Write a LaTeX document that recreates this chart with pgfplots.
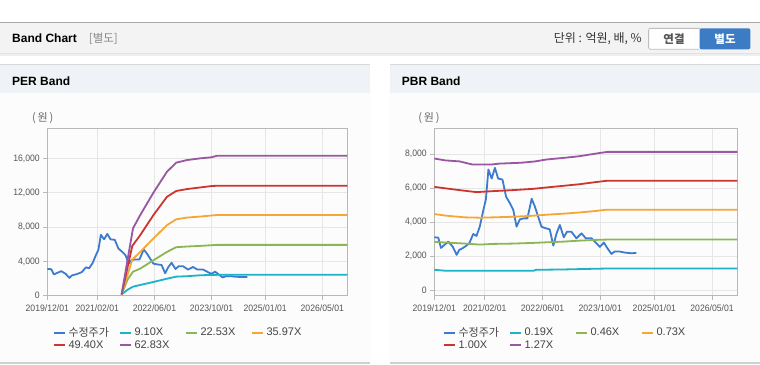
\documentclass[border=0pt]{standalone}
\usepackage{fontspec}
\setmainfont{Liberation Sans}
\newfontfamily\kr{Noto Sans CJK KR}
\newfontfamily\tickf[FakeStretch=0.93]{Liberation Sans}
\usepackage{pgfplots}
\pgfplotsset{compat=1.18}
\definecolor{cPrice}{HTML}{3C7BCF}
\definecolor{cA}{HTML}{1BB3C6}
\definecolor{cB}{HTML}{8CB653}
\definecolor{cC}{HTML}{F4A736}
\definecolor{cD}{HTML}{CD3530}
\definecolor{cE}{HTML}{9A56A2}
\definecolor{axisgray}{HTML}{B8B8B8}
\definecolor{gridgray}{HTML}{E6E6E6}
\definecolor{ticktext}{HTML}{555555}
\definecolor{hdrbg}{HTML}{F3F3F3}
\definecolor{hdrline}{HTML}{A8A8A8}
\definecolor{shadowA}{HTML}{E2E2E2}
\definecolor{shadowB}{HTML}{EEEEEE}
\definecolor{bracketgray}{HTML}{888888}
\definecolor{unittext}{HTML}{333333}
\definecolor{btnborder}{HTML}{BDBDBD}
\definecolor{btnblue}{HTML}{3B7CC4}
\definecolor{btntext}{HTML}{555555}
\definecolor{titlebg}{HTML}{EFF2F6}
\definecolor{bodybg}{HTML}{FCFCFC}
\definecolor{topline}{HTML}{D8D8D8}
\definecolor{botline}{HTML}{D0D0D0}
\definecolor{unitgray}{HTML}{666666}
\definecolor{legtext}{HTML}{444444}
\pgfplotsset{bandaxis/.style={
  scale only axis, height=167.4pt,
  xmin=0, xmax=84,
  xtick={0,14,30,46,61,77},
  xticklabels={2019/12/01,2021/02/01,2022/06/01,2023/10/01,2025/01/01,2026/05/01},
  grid=major, major grid style={gridgray, line width=0.8pt},
  axis line style={axisgray, line width=1pt},
  tick align=outside, major tick length=4pt, tick style={axisgray, line width=0.8pt},
  tick pos=left,
  tick label style={font=\tickf\fontsize{9.3}{10}\selectfont, text=ticktext},
  xticklabel style={yshift=-1.5pt},
  /pgf/number format/assume math mode=true,
  /pgf/number format/1000 sep={,},
  scaled y ticks=false,
  every axis plot/.append style={line width=1.8pt, line join=round, mark=none},
  legend columns=4,
  legend cell align=left,
  legend style={draw=none, fill=none, font=\fontsize{11}{12}\selectfont, text=legtext,
    anchor=north west, column sep=2.5pt, row sep=1.8pt, inner sep=0pt, nodes={inner sep=0.5pt}},
  legend image code/.code={\draw[line width=2pt] (0pt,0pt) -- (10.6pt,0pt);},
}}
\newcommand{\lb}[1]{\makebox[47.4pt][l]{#1}}
\begin{document}
\begin{tikzpicture}
\useasboundingbox (0,0) rectangle (760pt,-364pt);
\fill[white] (0,0) rectangle (760pt,-364pt);
% header
\fill[hdrbg] (0,-22.5pt) rectangle (760pt,-52.5pt);
\draw[hdrline, line width=1.2pt] (0,-22.5pt) -- (760pt,-22.5pt);
\fill[shadowA] (0,-52.5pt) rectangle (760pt,-54pt);
\fill[shadowB] (0,-54pt) rectangle (760pt,-55.5pt);
\node[anchor=base west, inner sep=0pt, font=\bfseries\fontsize{12}{14}\selectfont] at (12pt,-42.7pt) {Band Chart};
\node[anchor=base west, inner sep=0pt, text=bracketgray, font=\kr\fontsize{11.5}{14}\selectfont] at (88.7pt,-42.7pt) {[별도]};
\node[anchor=base east, inner sep=0pt, text=unittext, font=\kr\fontsize{12}{14}\selectfont] at (642pt,-42.7pt) {단위 : 억원, 배, \%};
\draw[fill=white, draw=btnborder, line width=0.8pt, rounded corners=2pt] (699.5pt,-28.3pt) -- (648.6pt,-28.3pt) -- (648.6pt,-49.3pt) -- (699.5pt,-49.3pt);
\draw[draw=btnborder, line width=0.8pt] (648.6pt,-28.3pt) -- (699.5pt,-28.3pt);
\fill[btnblue, rounded corners=2pt] (699.5pt,-28.3pt) rectangle (750.4pt,-49.3pt);
\node[text=btntext, font=\kr\bfseries\fontsize{11.5}{14}\selectfont] at (674pt,-39pt) {연결};
\node[text=white, font=\kr\bfseries\fontsize{11.5}{14}\selectfont] at (725pt,-39pt) {별도};
% panels
\foreach \xa/\xb in {0/369.5, 390/760} {
  \fill[titlebg] (\xa pt,-64.5pt) rectangle (\xb pt,-93pt);
  \fill[bodybg] (\xa pt,-93pt) rectangle (\xb pt,-362.5pt);
  \draw[topline, line width=1.2pt] (\xa pt,-64.3pt) -- (\xb pt,-64.3pt);
  \draw[botline, line width=1.2pt] (\xa pt,-363pt) -- (\xb pt,-363pt);
}
\node[anchor=base west, inner sep=0pt, font=\bfseries\fontsize{12}{14}\selectfont] at (12pt,-85pt) {PER Band};
\node[anchor=base west, inner sep=0pt, font=\bfseries\fontsize{12}{14}\selectfont] at (401.7pt,-85pt) {PBR Band};
\node[text=unitgray, font=\kr\fontsize{11}{13}\selectfont] at (42.7pt,-118.3pt) {(\,원\,)};
\node[text=unitgray, font=\kr\fontsize{11}{13}\selectfont] at (429pt,-118.3pt) {(\,원\,)};

% PER axis
\begin{axis}[bandaxis, at={(47.3pt,-295.7pt)}, anchor=south west, width=300pt,
  ymin=0, ymax=19500, ytick={0,4000,8000,12000,16000},
  legend style={at={(0.018,-0.185)}}]
\addplot[cPrice] coordinates {(0,3110)(1.1,3090)(1.85,2485)(2.8,2660)(3.9,2855)(5.1,2560)(6.2,2075)(6.9,2365)(7.85,2465)(8.8,2600)(9.7,2760)(10.8,3305)(11.7,3190)(12.65,3775)(13.6,4715)(14.3,5340)(15.0,7100)(15.9,6570)(16.8,7200)(17.7,6570)(18.9,6510)(19.9,5500)(21.0,5105)(21.9,4715)(22.8,3735)(23.7,4165)(24.8,4225)(25.8,4225)(27.0,5380)(27.9,4910)(28.8,4320)(29.7,3735)(30.9,3640)(32.0,3580)(33.0,2620)(33.9,3345)(34.8,3835)(35.9,3110)(36.8,3440)(38.0,3440)(39.4,3050)(40.8,3345)(42.0,3050)(43.6,3050)(44.5,2855)(45.9,2545)(47.0,2800)(47.7,2560)(49.1,2130)(50.0,2270)(51.4,2270)(52.8,2210)(54.7,2170)(56.0,2190)};
\addlegendentry{\lb{\kr 수정주가}}
\addplot[cA] coordinates {(20.8,150)(22.5,700)(24,1050)(26,1250)(29.7,1600)(33.5,1980)(36.1,2220)(39.1,2270)(42.8,2380)(45.9,2420)(47.5,2430)(84,2430)};
\addlegendentry{\lb{9.10X}}
\addplot[cB] coordinates {(20.8,150)(22.5,1900)(24,2800)(26,3150)(29.7,4125)(33.5,5100)(36.1,5650)(39.1,5730)(42.8,5800)(45.9,5880)(47.5,5920)(84,5920)};
\addlegendentry{\lb{22.53X}}
\addplot[cC] coordinates {(20.8,150)(23.8,4200)(26,5100)(29.7,6660)(33.5,8215)(36.1,8900)(39.1,9100)(42.8,9220)(45.9,9340)(47.5,9400)(84,9400)};
\addlegendentry{\lb{35.97X}}
\addplot[cD] coordinates {(20.8,150)(23.8,5800)(26,7045)(29.7,9380)(33.5,11520)(36.1,12200)(39.1,12420)(42.8,12610)(45.9,12770)(47.5,12810)(84,12810)};
\addlegendentry{\lb{49.40X}}
\addplot[cE] coordinates {(20.8,150)(24,7850)(26,9380)(29.7,11990)(33.5,14440)(36.1,15500)(39.1,15800)(42.8,16000)(45.9,16120)(47.5,16300)(84,16300)};
\addlegendentry{\lb{62.83X}}
\end{axis}

% PBR axis
\begin{axis}[bandaxis, at={(434.3pt,-295.7pt)}, anchor=south west, width=303pt,
  ymin=-330, ymax=9530, ytick={0,2000,4000,6000,8000},
  legend style={at={(0.028,-0.185)}}]
\addplot[cPrice] coordinates {(0,3110)(1.1,3090)(1.85,2485)(2.8,2660)(3.9,2855)(5.1,2560)(6.2,2075)(6.9,2365)(7.85,2465)(8.8,2600)(9.7,2760)(10.8,3305)(11.7,3190)(12.65,3775)(13.6,4715)(14.3,5340)(15.0,7100)(15.9,6570)(16.8,7200)(17.7,6570)(18.9,6510)(19.9,5500)(21.0,5105)(21.9,4715)(22.8,3735)(23.7,4165)(24.8,4225)(25.8,4225)(27.0,5380)(27.9,4910)(28.8,4320)(29.7,3735)(30.9,3640)(32.0,3580)(33.0,2620)(33.9,3345)(34.8,3835)(35.9,3110)(36.8,3440)(38.0,3440)(39.4,3050)(40.8,3345)(42.0,3050)(43.6,3050)(44.5,2855)(45.9,2545)(47.0,2800)(47.7,2560)(49.1,2130)(50.0,2270)(51.4,2270)(52.8,2210)(54.7,2170)(56.0,2190)};
\addlegendentry{\lb{\kr 수정주가}}
\addplot[cA] coordinates {(0,1195)(3.4,1135)(27.4,1135)(28.3,1195)(35.7,1215)(43,1250)(47.7,1270)(84,1270)};
\addlegendentry{\lb{0.19X}}
\addplot[cB] coordinates {(0,2835)(3.4,2800)(8.5,2740)(12.6,2680)(16.3,2720)(21.9,2740)(27.4,2780)(31.1,2815)(35.7,2855)(40.4,2915)(44.5,2955)(47.7,2975)(84,2975)};
\addlegendentry{\lb{0.46X}}
\addplot[cC] coordinates {(0,4480)(3.4,4380)(8.5,4285)(12.6,4265)(16.3,4285)(21.9,4320)(27.4,4380)(31.1,4440)(35.7,4500)(40.4,4575)(44.5,4655)(47.7,4735)(84,4735)};
\addlegendentry{\lb{0.73X}}
\addplot[cD] coordinates {(0,6080)(3.4,5985)(8.5,5850)(11.7,5770)(16.3,5830)(21.9,5890)(27.4,5965)(31.1,6045)(35.7,6140)(40.4,6240)(44.5,6355)(47.7,6435)(84,6435)};
\addlegendentry{\lb{1.00X}}
\addplot[cE] coordinates {(0,7750)(3,7640)(7,7580)(10.5,7400)(16,7400)(18,7450)(24,7500)(28,7580)(31,7690)(36,7790)(40,7880)(43,7980)(46,8080)(48,8140)(84,8140)};
\addlegendentry{\lb{1.27X}}
\end{axis}
\end{tikzpicture}
\end{document}
